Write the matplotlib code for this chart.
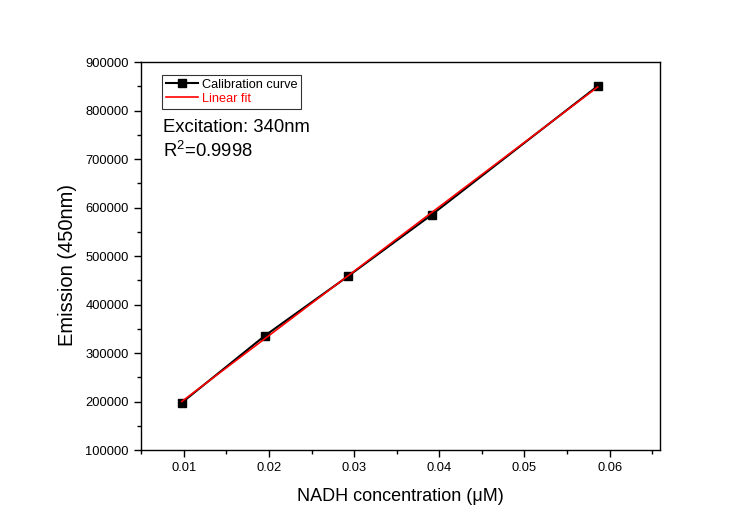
import numpy as np
import matplotlib
matplotlib.use("Agg")
import matplotlib.pyplot as plt
from matplotlib.ticker import AutoMinorLocator

plt.rcParams['font.family'] = ['Liberation Sans', 'DejaVu Sans']
plt.rcParams['mathtext.fontset'] = 'custom'
plt.rcParams['mathtext.rm'] = 'Liberation Sans'
plt.rcParams['mathtext.it'] = 'Liberation Sans:italic'

# NADH concentration (uM) and emission intensity at 450 nm
concentration = [0.00977, 0.0195, 0.0293, 0.0391, 0.0586]
emission = [198100, 335700, 458800, 585200, 850500]
x_ticks = [0.01, 0.02, 0.03, 0.04, 0.05, 0.06]
y_ticks = [100000, 200000, 300000, 400000, 500000, 600000, 700000, 800000, 900000]

x = np.array(concentration)
y = np.array(emission)
slope, intercept = np.polyfit(x, y, 1)
fit_x = np.array([x.min(), x.max()])
fit_y = slope * fit_x + intercept

fig = plt.figure(figsize=(7.55, 5.31), dpi=100)
ax = fig.add_axes([0.1864, 0.152, 0.6876, 0.7312])

ax.plot(x, y, color='black', marker='s', markersize=6.3, linewidth=1.5,
        label='Calibration curve')
ax.plot(fit_x, fit_y, color='red', linewidth=1.2, label='Linear fit')

ax.set_xlim(0.00495, 0.0659)
ax.set_ylim(100000, 900000)
ax.set_xticks(x_ticks)
ax.set_yticks(y_ticks)
ax.set_xticklabels([f"{v:g}" for v in x_ticks])
ax.set_yticklabels([f"{v:d}" for v in y_ticks])
ax.xaxis.set_minor_locator(AutoMinorLocator(2))
ax.yaxis.set_minor_locator(AutoMinorLocator(2))
ax.tick_params(which='major', direction='out', length=5, width=1, labelsize=9.3,
               top=False, right=False)
ax.tick_params(which='minor', direction='out', length=3, width=1,
               top=False, right=False)
for s in ax.spines.values():
    s.set_linewidth(1)

ax.set_xlabel('NADH concentration (\u03bcM)', fontsize=13, labelpad=10)
ax.set_ylabel('Emission (450nm)', fontsize=14.5)
ax.yaxis.set_label_coords(-0.122, 0.478)

leg = ax.legend(loc='upper left', bbox_to_anchor=(0.041, 0.9665), fontsize=9.2,
                frameon=True, fancybox=False, borderpad=0.3, handlelength=2.5,
                handletextpad=0.3, labelspacing=0.15, borderaxespad=0)
leg.get_frame().set_edgecolor('black')
leg.get_frame().set_linewidth(0.8)
for txt, line in zip(leg.get_texts(), leg.get_lines()):
    txt.set_color(line.get_color())

ax.text(0.043, 0.8196, 'Excitation: 340nm', transform=ax.transAxes, fontsize=13.3,
        va='baseline', ha='left')
ax.text(0.043, 0.755, r'R$^2$=0.9998', transform=ax.transAxes, fontsize=13.3,
        va='baseline', ha='left')

fig.savefig('out.png', dpi=100)
